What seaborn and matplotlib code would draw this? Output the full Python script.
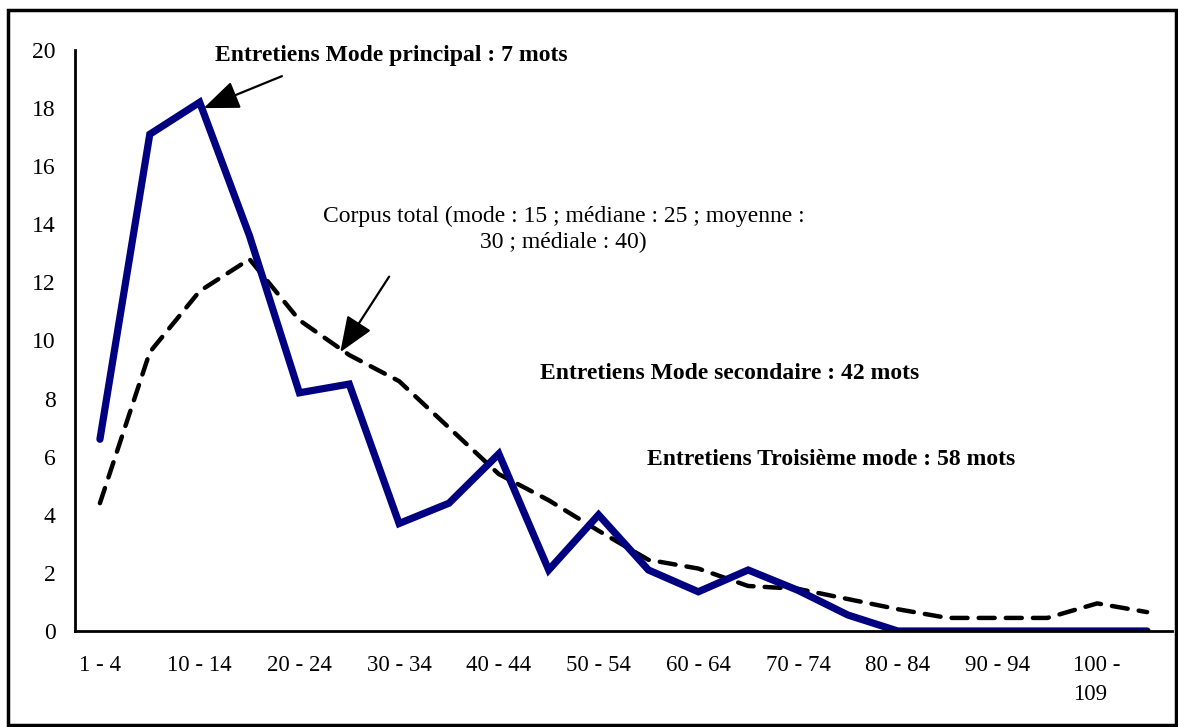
import pandas as pd
import matplotlib.pyplot as plt
import seaborn as sns
from matplotlib.patches import Rectangle

sns.set_style("white")
plt.rcParams['font.family'] = ['Liberation Serif', 'DejaVu Serif']
plt.rcParams['text.color'] = 'black'
plt.rcParams['xtick.color'] = 'black'
plt.rcParams['ytick.color'] = 'black'

# Tranches de longueur (en mots)
categories = ["1 - 4", "5 - 9", "10 - 14", "15 - 19", "20 - 24", "25 - 29",
              "30 - 34", "35 - 39", "40 - 44", "45 - 49", "50 - 54", "55 - 59",
              "60 - 64", "65 - 69", "70 - 74", "75 - 79", "80 - 84", "85 - 89",
              "90 - 94", "95 - 99", "100 -\n109", "110 et +"]

# Entretiens (trait plein)
entretiens = [6.6, 17.1, 18.2, 13.6, 8.2, 8.5, 3.7, 4.4, 6.1, 2.1, 4.0, 2.1,
              1.35, 2.1, 1.4, 0.55, 0.0, 0.0, 0.0, 0.0, 0.0, 0.0]

# Corpus total (pointillés)
corpus = [4.4, 9.6, 11.7, 12.8, 10.7, 9.5, 8.6, 7.0, 5.4, 4.5, 3.45, 2.45,
          2.15, 1.55, 1.45, 1.1, 0.75, 0.45, 0.45, 0.45, 0.95, 0.65]

tick_labels = categories[::2]

df = pd.DataFrame({"pos": range(len(categories)),
                   "entretiens": entretiens,
                   "corpus": corpus})

fig = plt.figure(figsize=(11.78, 7.27), dpi=100)
ax = fig.add_axes([75 / 1178, 1 - 631 / 727, (1172 - 75) / 1178, (631 - 50) / 727])

sns.lineplot(data=df, x="pos", y="corpus", ax=ax, color="black",
             linewidth=3.2)
ax.lines[-1].set_dashes([3.6, 2.5])
sns.lineplot(data=df, x="pos", y="entretiens", ax=ax, color="#000080",
             linewidth=5.2)
for ln in ax.lines:
    ln.set_solid_capstyle("round")
    ln.set_dash_capstyle("round")
    ln.set_solid_joinstyle("miter")

ax.set_xlim(-0.5, len(categories) - 0.5)
ax.set_ylim(0, 20)
ax.set_yticks(range(0, 21, 2))
ax.set_xticks(range(0, len(categories), 2))
ax.set_xticklabels(tick_labels, multialignment="left", linespacing=1.5)
ax.set_xticks([i - 0.5 for i in range(len(categories) + 1)], minor=True)
ax.tick_params(axis="x", which="major", length=0, pad=17, labelsize=16.5)
ax.tick_params(axis="x", which="minor", length=6, width=1.5, direction="out",
               color="black")
ax.tick_params(axis="y", length=6, width=1.5, direction="out", color="black",
               labelsize=17, pad=8)
ax.set_xlabel("")
ax.set_ylabel("")
sns.despine(ax=ax)
for s in ["left", "bottom"]:
    ax.spines[s].set_linewidth(2)
    ax.spines[s].set_color("black")

# Annotations
arrow_style = dict(arrowstyle="-|>,head_length=0.55,head_width=0.22",
                   color="black", lw=1.6, mutation_scale=40,
                   shrinkA=0, shrinkB=0)
ax.annotate("", xy=(2.08, 18.0), xytext=(3.65, 19.1), arrowprops=arrow_style)
ax.text(5.84, 19.8, "Entretiens Mode principal : 7 mots", ha="center",
        va="center", fontsize=17, fontweight="bold")

ax.annotate("", xy=(4.82, 9.6), xytext=(5.8, 12.2), arrowprops=arrow_style)
ax.text(9.3, 13.82,
        "Corpus total (mode : 15 ; médiane : 25 ; moyenne :\n30 ; médiale : 40)",
        ha="center", va="center", fontsize=17, linespacing=1.3)

ax.text(12.63, 8.85, "Entretiens Mode secondaire : 42 mots", ha="center",
        va="center", fontsize=17, fontweight="bold")
ax.text(14.67, 5.92, "Entretiens Troisième mode : 58 mots", ha="center",
        va="center", fontsize=17, fontweight="bold")

# Cadre extérieur
fig.patches.append(Rectangle((8 / 1178, 2 / 727), 1168 / 1178, 715 / 727,
                             transform=fig.transFigure, fill=False,
                             edgecolor="black", linewidth=2.5))

fig.savefig("out.png", dpi=100)
